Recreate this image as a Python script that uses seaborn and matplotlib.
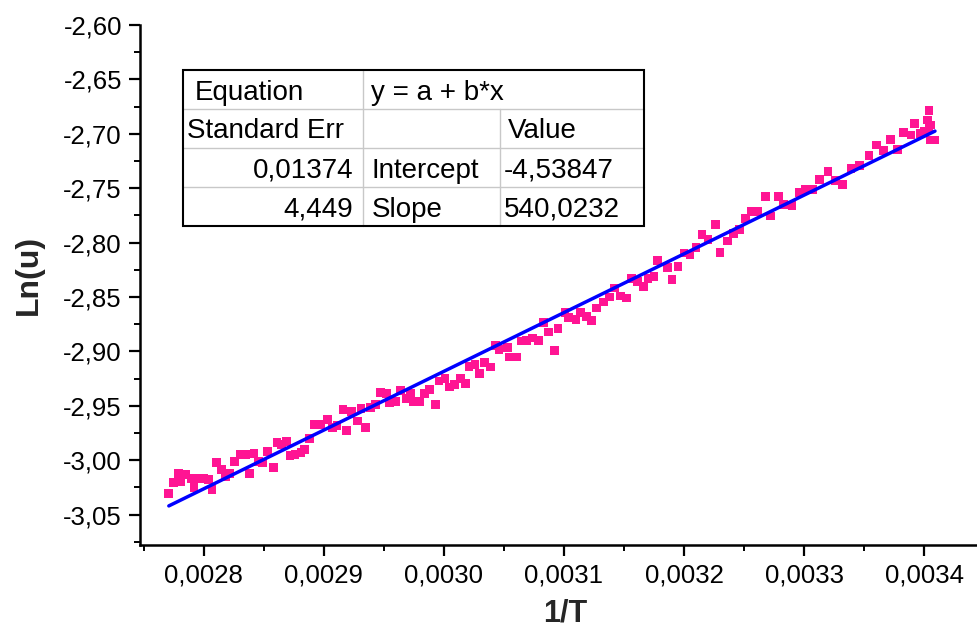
import numpy as np
import pandas as pd
import matplotlib
matplotlib.use("Agg")
import matplotlib.pyplot as plt
import seaborn as sns
from matplotlib.ticker import MultipleLocator, FuncFormatter
from matplotlib.patches import Rectangle
from matplotlib.lines import Line2D

# ---------------- data ----------------
inv_T = [
    0.002771, 0.002775, 0.002779, 0.002781, 0.002785, 0.002790, 0.002792, 0.002796, 0.002800, 0.002804,
    0.002807, 0.002811, 0.002815, 0.002818, 0.002822, 0.002826, 0.002831, 0.002835, 0.002838, 0.002842,
    0.002846, 0.002849, 0.002853, 0.002858, 0.002861, 0.002865, 0.002869, 0.002872, 0.002876, 0.002881,
    0.002884, 0.002888, 0.002892, 0.002897, 0.002903, 0.002907, 0.002911, 0.002916, 0.002919, 0.002923,
    0.002928, 0.002931, 0.002935, 0.002939, 0.002943, 0.002947, 0.002952, 0.002955, 0.002960, 0.002964,
    0.002969, 0.002972, 0.002975, 0.002980, 0.002984, 0.002988, 0.002993, 0.002996, 0.003001, 0.003005,
    0.003009, 0.003014, 0.003018, 0.003021, 0.003026, 0.003030, 0.003034, 0.003039, 0.003043, 0.003046,
    0.003053, 0.003055, 0.003061, 0.003065, 0.003069, 0.003074, 0.003079, 0.003083, 0.003087, 0.003092,
    0.003095, 0.003101, 0.003104, 0.003110, 0.003114, 0.003119, 0.003123, 0.003127, 0.003133, 0.003138,
    0.003142, 0.003147, 0.003152, 0.003156, 0.003161, 0.003166, 0.003170, 0.003175, 0.003178, 0.003186,
    0.003190, 0.003195, 0.003200, 0.003205, 0.003210, 0.003215, 0.003220, 0.003226, 0.003230, 0.003236,
    0.003241, 0.003246, 0.003251, 0.003256, 0.003261, 0.003268, 0.003272, 0.003279, 0.003283, 0.003290,
    0.003296, 0.003301, 0.003307, 0.003313, 0.003320, 0.003326, 0.003332, 0.003339, 0.003346, 0.003354,
    0.003360, 0.003366, 0.003372, 0.003378, 0.003383, 0.003389, 0.003392, 0.003397, 0.003400, 0.003403,
    0.003404, 0.003405, 0.003405, 0.003409, 0.003404,
]
ln_u = [
    -3.0310, -3.0208, -3.0120, -3.0196, -3.0132, -3.0166, -3.0254, -3.0166, -3.0171, -3.0178,
    -3.0273, -3.0024, -3.0086, -3.0148, -3.0120, -3.0009, -2.9948, -2.9951, -3.0120, -2.9941,
    -3.0009, -3.0019, -2.9917, -3.0070, -2.9840, -2.9856, -2.9825, -2.9957, -2.9948, -2.9927,
    -2.9902, -2.9803, -2.9672, -2.9672, -2.9629, -2.9702, -2.9681, -2.9536, -2.9727, -2.9552,
    -2.9641, -2.9527, -2.9702, -2.9513, -2.9488, -2.9380, -2.9389, -2.9467, -2.9460, -2.9359,
    -2.9435, -2.9389, -2.9460, -2.9460, -2.9389, -2.9350, -2.9490, -2.9273, -2.9251, -2.9328,
    -2.9304, -2.9251, -2.9297, -2.9138, -2.9120, -2.9200, -2.9104, -2.9144, -2.8945, -2.8984,
    -2.8966, -2.9052, -2.9052, -2.8905, -2.8899, -2.8878, -2.8899, -2.8736, -2.8822, -2.8991,
    -2.8791, -2.8644, -2.8690, -2.8705, -2.8644, -2.8678, -2.8715, -2.8601, -2.8546, -2.8500,
    -2.8417, -2.8491, -2.8509, -2.8331, -2.8356, -2.8402, -2.8331, -2.8310, -2.8162, -2.8230,
    -2.8340, -2.8218, -2.8095, -2.8110, -2.8046, -2.7926, -2.7972, -2.7834, -2.8089, -2.7985,
    -2.7917, -2.7880, -2.7779, -2.7712, -2.7712, -2.7573, -2.7755, -2.7573, -2.7650, -2.7656,
    -2.7543, -2.7512, -2.7509, -2.7420, -2.7350, -2.7433, -2.7463, -2.7319, -2.7288, -2.7203,
    -2.7104, -2.7157, -2.7049, -2.7144, -2.6987, -2.7012, -2.6904, -2.6996, -2.6982, -2.6874,
    -2.6788, -2.6920, -2.7058, -2.7058, -2.6955,
]
intercept = -4.53847
slope = 540.0232

x_ticks = [0.0028, 0.0029, 0.0030, 0.0031, 0.0032, 0.0033, 0.0034]
y_ticks = [-3.05, -3.00, -2.95, -2.90, -2.85, -2.80, -2.75, -2.70, -2.65, -2.60]

table_header = ["Equation", "y = a + b*x"]
table_cols = ["Standard Err", "", "Value"]
table_rows = [["0,01374", "Intercept", "-4,53847"],
              ["4,449", "Slope", "540,0232"]]

# ---------------- style ----------------
sns.set_theme(style="ticks")
plt.rcParams['font.family'] = ['Liberation Sans', 'DejaVu Sans']

W, H = 977, 629
fig = plt.figure(figsize=(W / 100, H / 100), dpi=100)
L, R, T, B = 140, 977, 25, 545
ax = fig.add_axes([L / W, 1 - B / H, (R - L) / W, (B - T) / H])

df = pd.DataFrame({"x": inv_T, "y": ln_u})
sns.scatterplot(data=df, x="x", y="y", marker="s", s=40, color="#FF1493",
                edgecolor="none", linewidth=0, ax=ax, zorder=2)

xf = np.array([min(inv_T), max(inv_T)])
fit = pd.DataFrame({"x": xf, "y": intercept + slope * xf})
sns.lineplot(data=fit, x="x", y="y", color="#0000FF", lw=2.5, ax=ax, zorder=3)

ax.set_xlim(0.002747, 0.003444)
ax.set_ylim(-3.078, -2.60)
ax.set_xticks(x_ticks)
ax.set_yticks(y_ticks)
ax.xaxis.set_minor_locator(MultipleLocator(0.00005))
ax.yaxis.set_minor_locator(MultipleLocator(0.025))
ax.xaxis.set_major_formatter(FuncFormatter(lambda v, p: f"{v:.4f}".replace(".", ",")))
ax.yaxis.set_major_formatter(FuncFormatter(lambda v, p: f"{v:.2f}".replace(".", ",")))

for s in ["top", "right"]:
    ax.spines[s].set_visible(False)
for s in ["left", "bottom"]:
    ax.spines[s].set_linewidth(1.8)
    ax.spines[s].set_color("black")
ax.tick_params(which="major", direction="out", length=8, width=1.6, labelsize=18.5,
               colors="black", pad=5)
ax.tick_params(which="minor", direction="out", length=4.5, width=1.4, colors="black")

ax.set_xlabel("1/T", fontsize=22, fontweight="bold")
ax.set_ylabel("Ln(u)", fontsize=23, fontweight="bold")
ax.xaxis.set_label_coords((565 - L) / (R - L), -(598 - B) / (B - T))
ax.yaxis.set_label_coords(-(L - 44) / (R - L), (B - 275) / (B - T))

# ---------------- table ----------------
def fx(px):
    return px / W

def fy(py):
    return 1 - py / H

tl, tr, tt, tb = 183, 644, 70, 226
rows_y = [70, 109, 148, 187, 226]
c1, c2 = 363, 500
grid_kw = dict(color="#c8c8c8", lw=1.0, transform=fig.transFigure, zorder=5)
for ry in rows_y[1:-1]:
    fig.add_artist(Line2D([fx(tl), fx(tr)], [fy(ry), fy(ry)], **grid_kw))
fig.add_artist(Line2D([fx(c1), fx(c1)], [fy(tt), fy(tb)], **grid_kw))
fig.add_artist(Line2D([fx(c2), fx(c2)], [fy(rows_y[1]), fy(tb)], **grid_kw))
fig.add_artist(Rectangle((fx(tl), fy(tb)), fx(tr) - fx(tl), fy(tt) - fy(tb),
                         transform=fig.transFigure, fill=False, edgecolor="black",
                         lw=1.5, zorder=6))

tfs = 20
def cell_text(px, row, s, ha="left"):
    cy = (rows_y[row] + rows_y[row + 1]) / 2
    fig.text(fx(px), fy(cy), s, ha=ha, va="center_baseline", fontsize=tfs,
             color="black", zorder=7)

cell_text(195, 0, table_header[0])
cell_text(371, 0, table_header[1])
cell_text(187, 1, table_cols[0])
cell_text(508, 1, table_cols[2])
for i, (se, name, val) in enumerate(table_rows):
    cell_text(353, 2 + i, se, ha="right")
    cell_text(372, 2 + i, name)
    cell_text(504, 2 + i, val)

fig.savefig("out.png", dpi=100)
